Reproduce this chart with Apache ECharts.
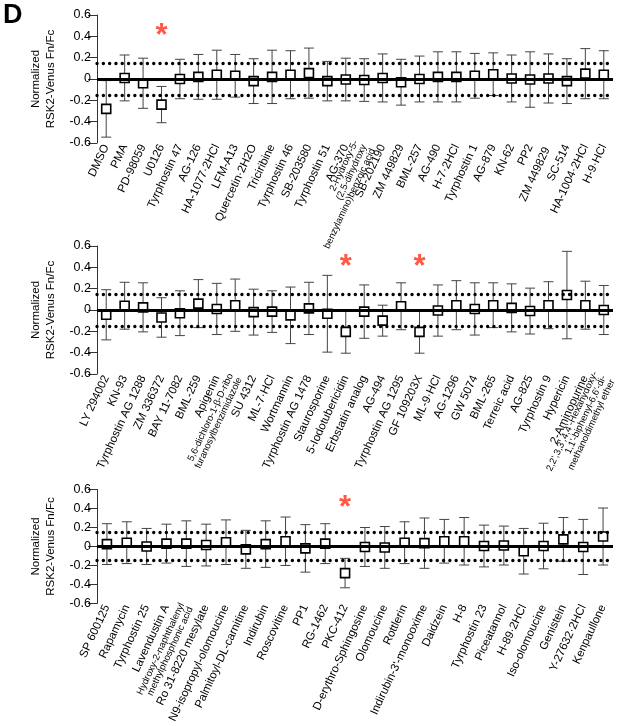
<!DOCTYPE html>
<html>
<head>
<meta charset="utf-8">
<script src="https://cdn.jsdelivr.net/npm/echarts@6/dist/echarts.min.js"></script>
<style>
  html, body { margin: 0; padding: 0; background: #fff; }
  #main { width: 620px; height: 726px; }
</style>
</head>
<body>
<div id="main"></div>
<script>
// panel 1
var names1 = ['DMSO', 'PMA', 'PD-98059', 'U0126', 'Tyrphostin 47', 'AG-126', 'HA-1077·2HCl', 'LFM-A13',
    'Quercetin·2H2O', 'Triciribine', 'Tyrphostin 46', 'SB-203580', 'Tyrphostin 51', 'AG-370',
    '2-Hydroxy-5-\n(2,5-dihydroxy\nbenzylamino)benzoic acid', 'SB-202190', 'ZM 449829', 'BML-257', 'AG-490',
    'H-7·2HCl', 'Tyrphostin 1', 'AG-879', 'KN-62', 'PP2', 'ZM 449829 ', 'SC-514', 'HA-1004·2HCl', 'H-9·HCl'];
var mean1 = [-0.28, 0.01, -0.04, -0.24, 0.0, 0.02, 0.04, 0.03, -0.02, 0.02, 0.04, 0.055, -0.02, -0.005,
    -0.01, 0.01, -0.03, 0.0, 0.02, 0.02, 0.03, 0.045, 0.005, -0.005, 0.005, -0.02, 0.05, 0.04];
var err1 = [0.265, 0.215, 0.235, 0.17, 0.185, 0.21, 0.23, 0.2, 0.21, 0.25, 0.225, 0.235, 0.185, 0.2,
    0.2, 0.225, 0.215, 0.215, 0.235, 0.235, 0.21, 0.2, 0.22, 0.26, 0.23, 0.21, 0.235, 0.225];
var star1 = ['U0126'];

// panel 2
var names2 = ['LY 294002', 'KN-93', 'Tyrphostin AG 1288', 'ZM 336372', 'BAY 11-7082', 'BML-259', 'Apigenin',
    '5,6-dichloro-1-β-D-ribo\nfuranosylbenzimidazole', 'SU 4312', 'ML-7·HCl', 'Wortmannin', 'Tyrphostin AG 1478',
    'Staurosporine', '5-Iodotubericidin', 'Erbstatin analog', 'AG-494', 'Tyrphostin AG 1295', 'GF 109203X',
    'ML-9·HCl', 'AG-1296', 'GW 5074', 'BML-265', 'Terreic acid', 'AG-825', 'Tyrphostin 9', 'Hypericin',
    '2-Aminopurine', '2,2\',3,3\',4,4\'-Hexahydoxy-\n1,1\'-biphenyl-6,6\'-di-\nmethanoldimethyl ether'];
var mean2 = [-0.045, 0.04, 0.025, -0.07, -0.03, 0.06, 0.01, 0.045, -0.02, -0.015, -0.05, 0.015,
    -0.035, -0.205, -0.015, -0.1, 0.035, -0.205, -0.005, 0.045, 0.01, 0.045, 0.02, -0.01, 0.045, 0.14,
    0.045, 0.0];
var err2 = [0.235, 0.22, 0.23, 0.185, 0.21, 0.225, 0.24, 0.245, 0.215, 0.195, 0.265, 0.245,
    0.36, 0.2, 0.25, 0.145, 0.22, 0.2, 0.24, 0.23, 0.245, 0.21, 0.225, 0.215, 0.22, 0.41,
    0.225, 0.23];
var star2 = ['5-Iodotubericidin', 'GF 109203X'];

// panel 3
var names3 = ['SP 600125', 'Rapamycin', 'Tyrphostin 25', 'Lavendustin A',
    'Hydroxy-2-naphthalenyl\nmethylphosphonic acid', 'Ro 31-8220 mesylate', 'N9-isopropyl-olomoucine',
    'Palmitoyl-DL-carnitine', 'Indirubin', 'Roscovitine', 'PP1', 'RG-1462', 'PKC-412', 'D-erythro-Sphingosine',
    'Olomoucine', 'Rottlerin', 'Indirubin-3\'-monooxime', 'Daidzein', 'H-8', 'Tyrphostin 23', 'Piceatannol',
    'H-89·2HCl', 'Iso-olomoucine', 'Genistein', 'Y-27632·2HCl', 'Kenpaullone'];
var mean3 = [0.025, 0.04, 0.0, 0.03, 0.03, 0.015, 0.045, -0.03, 0.025, 0.055, -0.02, 0.03, -0.28,
    -0.005, -0.01, 0.04, 0.035, 0.055, 0.055, 0.005, 0.01, -0.05, 0.005, 0.075, -0.005, 0.105];
var err3 = [0.215, 0.22, 0.19, 0.205, 0.24, 0.22, 0.235, 0.2, 0.245, 0.255, 0.25, 0.21, 0.155,
    0.205, 0.22, 0.22, 0.265, 0.23, 0.25, 0.22, 0.205, 0.24, 0.24, 0.23, 0.29, 0.3];
var star3 = ['PKC-412'];

var starY = 0.4;
var cutoff = 0.15;

var panels = [
    { names: names1, mean: mean1, err: err1, star: star1, top: 15 },
    { names: names2, mean: mean2, err: err2, star: star2, top: 246 },
    { names: names3, mean: mean3, err: err3, star: star3, top: 489.5 }
];

var font = 'Liberation Sans, Arial, Helvetica, sans-serif';
var myChart = echarts.init(document.getElementById('main'));

var grids = [], xAxes = [], yAxes = [], series = [];

panels.forEach(function (p, i) {
    grids.push({ left: 97, right: 7, top: p.top, height: 128 });
    xAxes.push({
        type: 'category', gridIndex: i, data: p.names,
        axisLine: { show: false }, axisTick: { show: false },
        axisLabel: {
            rotate: 65, interval: 0, margin: 2, fontSize: 11.5, fontFamily: font, color: '#000',
            formatter: function (v) {
                if (v.indexOf('\n') >= 0) return '{s|' + v.split('\n').join('}\n{s|') + '}';
                return v;
            },
            rich: { s: { fontSize: 9.5, lineHeight: 9.5, fontFamily: font, color: '#000' } }
        }
    });
    yAxes.push({
        type: 'value', gridIndex: i, min: -0.6, max: 0.6, interval: 0.2,
        name: 'Normalized\nRSK2-Venus Fn/Fc', nameLocation: 'middle', nameGap: 36,
        nameTextStyle: { fontSize: 11.5, fontFamily: font, color: '#000', lineHeight: 15 },
        axisLine: { show: true, lineStyle: { color: '#333', width: 1 } },
        axisTick: { show: true, length: 9, lineStyle: { color: '#333' } },
        splitLine: { show: false },
        axisLabel: {
            fontSize: 12.5, fontFamily: font, color: '#000', margin: 6,
            formatter: function (v) { return Math.abs(v) < 1e-9 ? '0' : v.toFixed(1); }
        }
    });

    // reference lines
    series.push({
        type: 'line', xAxisIndex: i, yAxisIndex: i, data: [], z: 1,
        markLine: {
            silent: true, symbol: 'none', label: { show: false }, animation: false,
            data: [
                { yAxis: 0, lineStyle: { color: '#000', width: 3, type: 'solid' } },
                { yAxis: cutoff, lineStyle: { color: '#000', width: 3.3, type: [0.1, 6.2], cap: 'round' } },
                { yAxis: -cutoff, lineStyle: { color: '#000', width: 3.3, type: [0.1, 6.2], cap: 'round' } }
            ]
        }
    });

    // error bars
    series.push({
        type: 'custom', xAxisIndex: i, yAxisIndex: i, z: 2,
        data: p.mean.map(function (m, k) { return [k, m - p.err[k], m + p.err[k]]; }),
        renderItem: function (params, api) {
            var lo = api.coord([api.value(0), api.value(1)]);
            var hi = api.coord([api.value(0), api.value(2)]);
            var hw = 5;
            var st = { stroke: '#444', lineWidth: 1 };
            return {
                type: 'group',
                children: [
                    { type: 'line', shape: { x1: hi[0], y1: hi[1], x2: lo[0], y2: lo[1] }, style: st },
                    { type: 'line', shape: { x1: hi[0] - hw, y1: hi[1], x2: hi[0] + hw, y2: hi[1] }, style: st },
                    { type: 'line', shape: { x1: lo[0] - hw, y1: lo[1], x2: lo[0] + hw, y2: lo[1] }, style: st }
                ]
            };
        }
    });

    // means
    series.push({
        type: 'scatter', xAxisIndex: i, yAxisIndex: i, z: 3,
        symbol: 'rect', symbolSize: 9,
        itemStyle: { color: '#fff', borderColor: '#000', borderWidth: 1.6, opacity: 1 },
        data: p.mean.map(function (m, k) { return [k, m]; })
    });

    // significance
    series.push({
        type: 'scatter', xAxisIndex: i, yAxisIndex: i, z: 4,
        symbolSize: 1, itemStyle: { color: 'rgba(0,0,0,0)' },
        label: {
            show: true, position: 'inside', formatter: '*',
            fontSize: 31, fontWeight: 'bold', fontFamily: font, color: '#ff3016'
        },
        data: p.star.map(function (s) { return [p.names.indexOf(s), starY]; })
    });
});

var option = {
    animation: false,
    backgroundColor: '#fff',
    graphic: [{
        type: 'text', left: 3, top: 2,
        style: { text: 'D', fontSize: 27, fontWeight: 'bold', fontFamily: font, fill: '#000' }
    }],
    grid: grids,
    xAxis: xAxes,
    yAxis: yAxes,
    series: series
};

myChart.setOption(option);
</script>
</body>
</html>
